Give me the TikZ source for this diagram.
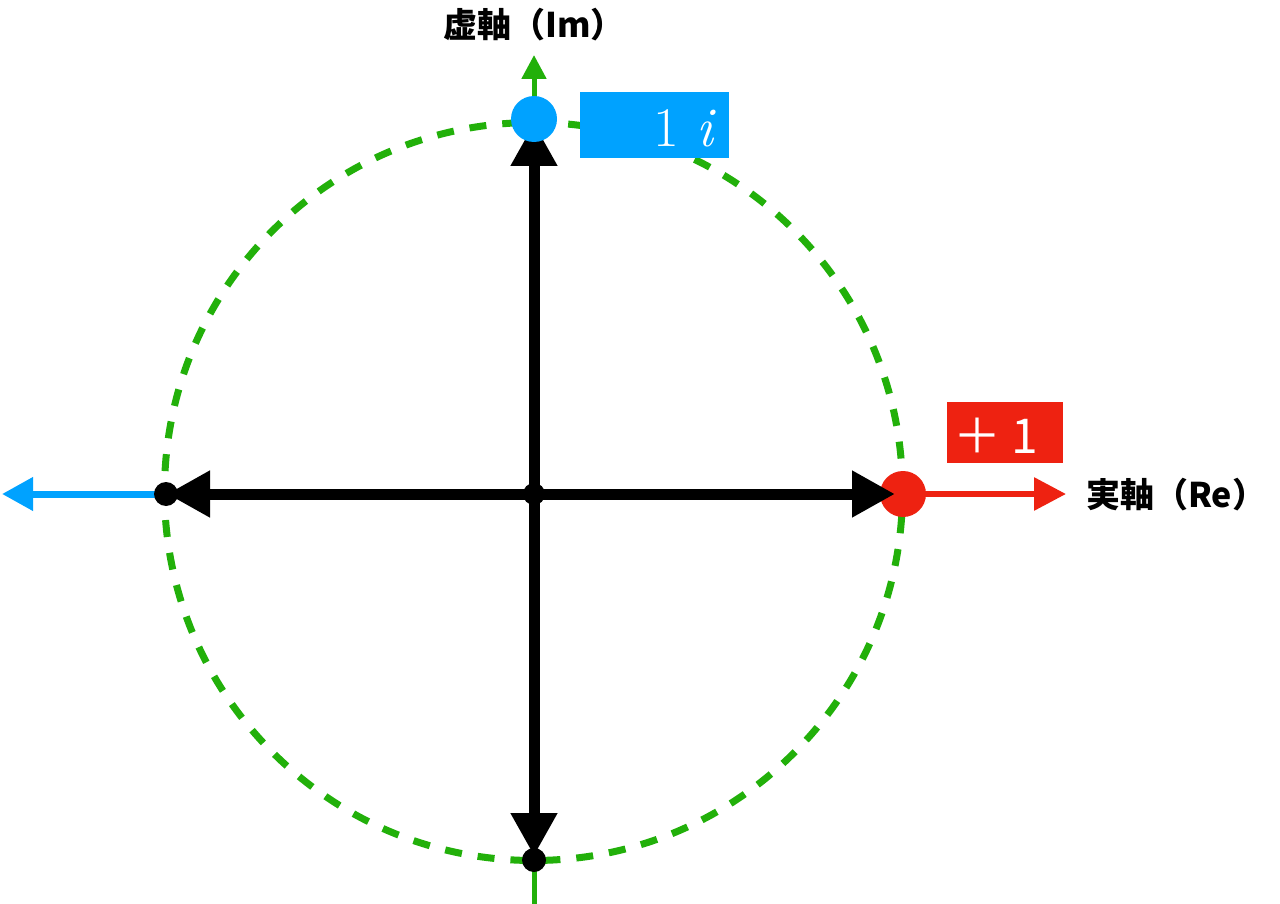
\documentclass[tikz,border=0pt]{standalone}
\usepackage{fontspec}
\newfontfamily\cjk{Noto Sans CJK JP}
\usetikzlibrary{arrows.meta}
\definecolor{gr}{HTML}{22B00A}
\definecolor{bl}{HTML}{00A2FF}
\definecolor{rd}{HTML}{EE2211}
\tikzset{
  blkarrow/.style={black, line width=11pt, -{Triangle[width=44pt,length=43pt]}},
  dotnode/.style={circle, inner sep=0pt, draw=none},
  axlabel/.style={font=\cjk\bfseries\fontsize{34}{34}\selectfont, inner sep=0pt, text=black},
  valbox/.style={inner sep=0pt, draw=none},
}
\begin{document}
\begin{tikzpicture}[x=1pt,y=-1pt]
\useasboundingbox (0,0) rectangle (1280,904);
\fill[white] (0,0) rectangle (1280,904);
% coordinates
\coordinate (O) at (534,494);
\coordinate (Tc) at (534,119);
\coordinate (Rc) at (903,494);
\coordinate (Bc) at (534,860);
\coordinate (Lc) at (166,494);
\coordinate (Ttip) at (534,123);
\coordinate (Rtip) at (895,494);
\coordinate (Btip) at (534,856);
\coordinate (Ltip) at (167,494);
\coordinate (GB) at (534,904);
\coordinate (GT) at (534,55);
\coordinate (RT) at (1066,494);
\coordinate (LT) at (2,494);
\coordinate (C) at (533.5,491.5);
% dashed unit circle
\draw[gr, line width=7pt, dash pattern=on 17pt off 16pt] (C) circle[radius=369pt];
% green imaginary axis
\draw[gr, line width=5pt, -{Triangle[width=24pt,length=24pt]}] (GB) -- (GT);
% red and blue arrows
\draw[rd, line width=6pt, -{Triangle[width=32pt,length=32pt]}] (Rc) -- (RT);
\draw[bl, line width=7pt, -{Triangle[width=32pt,length=31pt]}] (Lc) -- (LT);
% red dot under black arrow
\node[dotnode, fill=rd, minimum size=46pt] (R) at (Rc) {};
% black arrows
\draw[blkarrow] (O) -- (Ttip);
\draw[blkarrow] (O) -- (Rtip);
\draw[blkarrow] (O) -- (Btip);
\draw[blkarrow] (O) -- (Ltip);
% dots
\node[dotnode, fill=black, minimum size=22pt] (Odot) at (O) {};
\node[dotnode, fill=bl, minimum size=46pt] (T) at (Tc) {};
\node[dotnode, fill=black, minimum size=24pt] (B) at (Bc) {};
\node[dotnode, fill=black, minimum size=24pt] (L) at (Lc) {};
% value boxes
\node[valbox, fill=bl, minimum width=149pt, minimum height=66pt] (BB) at (654.5,125) {};
\node[anchor=base east, inner sep=0pt, text=white, font=\fontsize{56}{56}\selectfont] (BT) at (716,147) {1 \textit{i}};
\node[valbox, fill=rd, minimum width=116pt, minimum height=61pt] (RB) at (1005,432.5) {};
\node[anchor=base west, inner sep=0pt, text=white, font=\cjk\fontsize{48}{48}\selectfont] (RTX) at (953,453) {＋ 1};
% axis labels
\node[axlabel, anchor=west] (IM) at (443,25) {虚軸（Im）};
\node[axlabel, anchor=west] (RE) at (1086,495) {実軸（Re）};
\end{tikzpicture}
\end{document}
